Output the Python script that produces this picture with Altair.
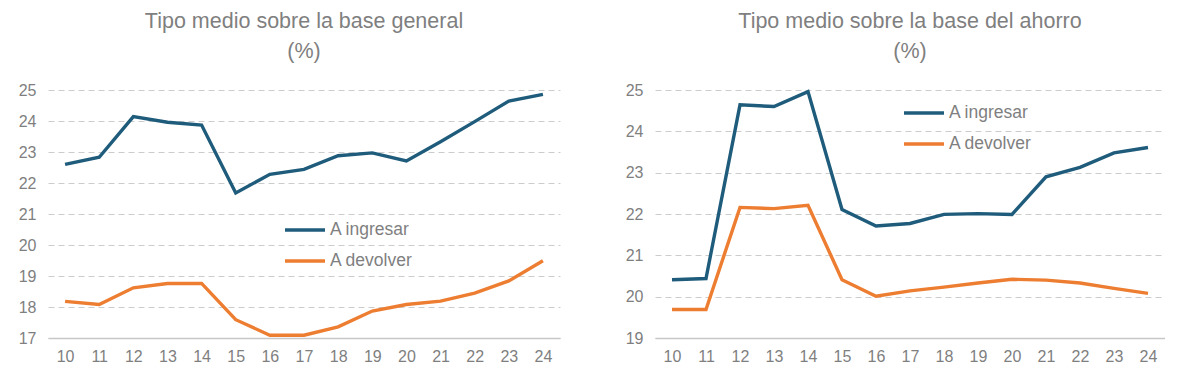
import altair as alt
import pandas as pd

years = ["10", "11", "12", "13", "14", "15", "16", "17", "18", "19", "20", "21", "22", "23", "24"]
series_names = ["A ingresar", "A devolver"]
gen_ingresar = [22.60, 22.83, 24.14, 23.96, 23.87, 21.68, 22.28, 22.44, 22.88, 22.97, 22.71, 23.33, 23.98, 24.64, 24.86]
gen_devolver = [18.18, 18.08, 18.62, 18.76, 18.76, 17.59, 17.09, 17.09, 17.36, 17.87, 18.08, 18.19, 18.45, 18.84, 19.49]
aho_ingresar = [20.41, 20.44, 24.64, 24.60, 24.96, 22.11, 21.71, 21.77, 21.99, 22.01, 21.99, 22.90, 23.13, 23.48, 23.61]
aho_devolver = [19.69, 19.69, 22.16, 22.13, 22.21, 20.41, 20.01, 20.14, 20.23, 20.33, 20.42, 20.40, 20.33, 20.20, 20.08]
title_general = ["Tipo medio sobre la base general", "(%)"]
title_ahorro = ["Tipo medio sobre la base del ahorro", "(%)"]
ticks_general = [17, 18, 19, 20, 21, 22, 23, 24, 25]
ticks_ahorro = [19, 20, 21, 22, 23, 24, 25]
colors = ["#1F5C7C", "#ED7D31"]

FONT = "Liberation Sans Narrow, Arial Narrow, Liberation Sans, Arial, sans-serif"
GRAY = "#7f7f7f"


def make_df(a, b):
    rows = []
    for y, v in zip(years, a):
        rows.append({"year": y, "serie": series_names[0], "value": v})
    for y, v in zip(years, b):
        rows.append({"year": y, "serie": series_names[1], "value": v})
    return pd.DataFrame(rows)


def panel(df, title, ticks, width, lx, ly):
    return (
        alt.Chart(df, title=alt.Title(title))
        .mark_line(strokeWidth=3.4)
        .encode(
            x=alt.X(
                "year:O",
                sort=years,
                scale=alt.Scale(type="point", padding=0.5),
                axis=alt.Axis(
                    title=None, labelAngle=0, ticks=False, domain=True,
                    domainColor="#c8c8c8", domainWidth=1.5, grid=False,
                    labelPadding=10, labelFontSize=16, labelColor=GRAY, labelFont=FONT,
                ),
            ),
            y=alt.Y(
                "value:Q",
                scale=alt.Scale(domain=[ticks[0], ticks[-1]], nice=False, zero=False),
                axis=alt.Axis(
                    title=None, ticks=False, domain=False,
                    values=ticks, labelOverlap=False,
                    grid=True, gridDash=[6, 4], gridColor="#cccccc", gridWidth=1,
                    labelPadding=12, labelFontSize=16, labelColor=GRAY, labelFont=FONT,
                    minExtent=40, maxExtent=40,
                ),
            ),
            color=alt.Color(
                "serie:N",
                sort=series_names,
                scale=alt.Scale(domain=series_names, range=colors),
                legend=alt.Legend(
                    title=None, orient="none", legendX=lx, legendY=ly,
                    symbolType="stroke", symbolSize=1600, symbolStrokeWidth=3.4,
                    labelFontSize=17.5, labelColor=GRAY, labelFont=FONT,
                    labelOffset=3, rowPadding=-4,
                ),
            ),
        )
        .properties(width=width, height=248)
    )


left = panel(make_df(gen_ingresar, gen_devolver), title_general, ticks_general, 512, 235, 118)
right = panel(make_df(aho_ingresar, aho_devolver), title_ahorro, ticks_ahorro, 510, 247, 1)

chart = (
    alt.hconcat(left, right, spacing=55)
    .resolve_scale(color="independent")
    .resolve_legend(color="independent")
    .properties(padding={"left": 0, "top": 2, "right": 0, "bottom": 0})
    .configure_view(stroke=None)
    .configure_title(
        font=FONT, fontSize=21.5, fontWeight="normal", color=GRAY,
        lineHeight=30, anchor="middle", offset=20,
    )
)

chart.save("out.html", embed_options={"renderer": "svg", "actions": False})
